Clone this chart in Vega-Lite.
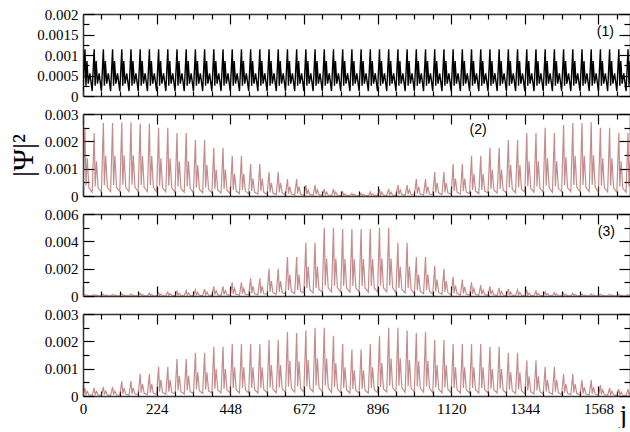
{
"$schema":"https://vega.github.io/schema/vega-lite/v6.json",
"padding":{"left":8,"top":7,"right":0,"bottom":0},
"autosize":{"type":"pad"},
"background":"white",
"spacing":18,
"bounds":"flush",
"config":{"view":{"stroke":null},"axis":{"grid":false,"ticks":true,"domainColor":"#333","domainWidth":1.5,"tickColor":"#000","tickWidth":1.2,"tickSize":-10,"labelFont":"Liberation Serif","labelFontSize":15,"labelColor":"#000","labelFlush":false,"labelOverlap":false,"labelBound":false,"labelPadding":15,"title":null}},
"datasets":{
"p1":[{"j":0,"v":0.00012},{"j":6,"v":0.00114},{"j":9,"v":0.00025},{"j":12,"v":0.00085},{"j":16,"v":0.0003},{"j":21,"v":0.00055},
{"j":28,"v":0.00012},{"j":34,"v":0.00114},{"j":37,"v":0.00025},{"j":40,"v":0.00085},{"j":44,"v":0.0003},{"j":49,"v":0.00055},
{"j":56,"v":0.00012},{"j":62,"v":0.00114},{"j":65,"v":0.00025},{"j":68,"v":0.00085},{"j":72,"v":0.0003},{"j":77,"v":0.00055},
{"j":84,"v":0.00012},{"j":90,"v":0.00114},{"j":93,"v":0.00025},{"j":96,"v":0.00085},{"j":100,"v":0.0003},{"j":105,"v":0.00055},
{"j":112,"v":0.00012},{"j":118,"v":0.00114},{"j":121,"v":0.00025},{"j":124,"v":0.00085},{"j":128,"v":0.0003},{"j":133,"v":0.00055},
{"j":140,"v":0.00012},{"j":146,"v":0.00114},{"j":149,"v":0.00025},{"j":152,"v":0.00085},{"j":156,"v":0.0003},{"j":161,"v":0.00055},
{"j":168,"v":0.00012},{"j":174,"v":0.00114},{"j":177,"v":0.00025},{"j":180,"v":0.00085},{"j":184,"v":0.0003},{"j":189,"v":0.00055},
{"j":196,"v":0.00012},{"j":202,"v":0.00114},{"j":205,"v":0.00025},{"j":208,"v":0.00085},{"j":212,"v":0.0003},{"j":217,"v":0.00055},
{"j":224,"v":0.00012},{"j":230,"v":0.00114},{"j":233,"v":0.00025},{"j":236,"v":0.00085},{"j":240,"v":0.0003},{"j":245,"v":0.00055},
{"j":252,"v":0.00012},{"j":258,"v":0.00114},{"j":261,"v":0.00025},{"j":264,"v":0.00085},{"j":268,"v":0.0003},{"j":273,"v":0.00055},
{"j":280,"v":0.00012},{"j":286,"v":0.00114},{"j":289,"v":0.00025},{"j":292,"v":0.00085},{"j":296,"v":0.0003},{"j":301,"v":0.00055},
{"j":308,"v":0.00012},{"j":314,"v":0.00114},{"j":317,"v":0.00025},{"j":320,"v":0.00085},{"j":324,"v":0.0003},{"j":329,"v":0.00055},
{"j":336,"v":0.00012},{"j":342,"v":0.00114},{"j":345,"v":0.00025},{"j":348,"v":0.00085},{"j":352,"v":0.0003},{"j":357,"v":0.00055},
{"j":364,"v":0.00012},{"j":370,"v":0.00114},{"j":373,"v":0.00025},{"j":376,"v":0.00085},{"j":380,"v":0.0003},{"j":385,"v":0.00055},
{"j":392,"v":0.00012},{"j":398,"v":0.00114},{"j":401,"v":0.00025},{"j":404,"v":0.00085},{"j":408,"v":0.0003},{"j":413,"v":0.00055},
{"j":420,"v":0.00012},{"j":426,"v":0.00114},{"j":429,"v":0.00025},{"j":432,"v":0.00085},{"j":436,"v":0.0003},{"j":441,"v":0.00055},
{"j":448,"v":0.00012},{"j":454,"v":0.00114},{"j":457,"v":0.00025},{"j":460,"v":0.00085},{"j":464,"v":0.0003},{"j":469,"v":0.00055},
{"j":476,"v":0.00012},{"j":482,"v":0.00114},{"j":485,"v":0.00025},{"j":488,"v":0.00085},{"j":492,"v":0.0003},{"j":497,"v":0.00055},
{"j":504,"v":0.00012},{"j":510,"v":0.00114},{"j":513,"v":0.00025},{"j":516,"v":0.00085},{"j":520,"v":0.0003},{"j":525,"v":0.00055},
{"j":532,"v":0.00012},{"j":538,"v":0.00114},{"j":541,"v":0.00025},{"j":544,"v":0.00085},{"j":548,"v":0.0003},{"j":553,"v":0.00055},
{"j":560,"v":0.00012},{"j":566,"v":0.00114},{"j":569,"v":0.00025},{"j":572,"v":0.00085},{"j":576,"v":0.0003},{"j":581,"v":0.00055},
{"j":588,"v":0.00012},{"j":594,"v":0.00114},{"j":597,"v":0.00025},{"j":600,"v":0.00085},{"j":604,"v":0.0003},{"j":609,"v":0.00055},
{"j":616,"v":0.00012},{"j":622,"v":0.00114},{"j":625,"v":0.00025},{"j":628,"v":0.00085},{"j":632,"v":0.0003},{"j":637,"v":0.00055},
{"j":644,"v":0.00012},{"j":650,"v":0.00114},{"j":653,"v":0.00025},{"j":656,"v":0.00085},{"j":660,"v":0.0003},{"j":665,"v":0.00055},
{"j":672,"v":0.00012},{"j":678,"v":0.00114},{"j":681,"v":0.00025},{"j":684,"v":0.00085},{"j":688,"v":0.0003},{"j":693,"v":0.00055},
{"j":700,"v":0.00012},{"j":706,"v":0.00114},{"j":709,"v":0.00025},{"j":712,"v":0.00085},{"j":716,"v":0.0003},{"j":721,"v":0.00055},
{"j":728,"v":0.00012},{"j":734,"v":0.00114},{"j":737,"v":0.00025},{"j":740,"v":0.00085},{"j":744,"v":0.0003},{"j":749,"v":0.00055},
{"j":756,"v":0.00012},{"j":762,"v":0.00114},{"j":765,"v":0.00025},{"j":768,"v":0.00085},{"j":772,"v":0.0003},{"j":777,"v":0.00055},
{"j":784,"v":0.00012},{"j":790,"v":0.00114},{"j":793,"v":0.00025},{"j":796,"v":0.00085},{"j":800,"v":0.0003},{"j":805,"v":0.00055},
{"j":812,"v":0.00012},{"j":818,"v":0.00114},{"j":821,"v":0.00025},{"j":824,"v":0.00085},{"j":828,"v":0.0003},{"j":833,"v":0.00055},
{"j":840,"v":0.00012},{"j":846,"v":0.00114},{"j":849,"v":0.00025},{"j":852,"v":0.00085},{"j":856,"v":0.0003},{"j":861,"v":0.00055},
{"j":868,"v":0.00012},{"j":874,"v":0.00114},{"j":877,"v":0.00025},{"j":880,"v":0.00085},{"j":884,"v":0.0003},{"j":889,"v":0.00055},
{"j":896,"v":0.00012},{"j":902,"v":0.00114},{"j":905,"v":0.00025},{"j":908,"v":0.00085},{"j":912,"v":0.0003},{"j":917,"v":0.00055},
{"j":924,"v":0.00012},{"j":930,"v":0.00114},{"j":933,"v":0.00025},{"j":936,"v":0.00085},{"j":940,"v":0.0003},{"j":945,"v":0.00055},
{"j":952,"v":0.00012},{"j":958,"v":0.00114},{"j":961,"v":0.00025},{"j":964,"v":0.00085},{"j":968,"v":0.0003},{"j":973,"v":0.00055},
{"j":980,"v":0.00012},{"j":986,"v":0.00114},{"j":989,"v":0.00025},{"j":992,"v":0.00085},{"j":996,"v":0.0003},{"j":1001,"v":0.00055},
{"j":1008,"v":0.00012},{"j":1014,"v":0.00114},{"j":1017,"v":0.00025},{"j":1020,"v":0.00085},{"j":1024,"v":0.0003},{"j":1029,"v":0.00055},
{"j":1036,"v":0.00012},{"j":1042,"v":0.00114},{"j":1045,"v":0.00025},{"j":1048,"v":0.00085},{"j":1052,"v":0.0003},{"j":1057,"v":0.00055},
{"j":1064,"v":0.00012},{"j":1070,"v":0.00114},{"j":1073,"v":0.00025},{"j":1076,"v":0.00085},{"j":1080,"v":0.0003},{"j":1085,"v":0.00055},
{"j":1092,"v":0.00012},{"j":1098,"v":0.00114},{"j":1101,"v":0.00025},{"j":1104,"v":0.00085},{"j":1108,"v":0.0003},{"j":1113,"v":0.00055},
{"j":1120,"v":0.00012},{"j":1126,"v":0.00114},{"j":1129,"v":0.00025},{"j":1132,"v":0.00085},{"j":1136,"v":0.0003},{"j":1141,"v":0.00055},
{"j":1148,"v":0.00012},{"j":1154,"v":0.00114},{"j":1157,"v":0.00025},{"j":1160,"v":0.00085},{"j":1164,"v":0.0003},{"j":1169,"v":0.00055},
{"j":1176,"v":0.00012},{"j":1182,"v":0.00114},{"j":1185,"v":0.00025},{"j":1188,"v":0.00085},{"j":1192,"v":0.0003},{"j":1197,"v":0.00055},
{"j":1204,"v":0.00012},{"j":1210,"v":0.00114},{"j":1213,"v":0.00025},{"j":1216,"v":0.00085},{"j":1220,"v":0.0003},{"j":1225,"v":0.00055},
{"j":1232,"v":0.00012},{"j":1238,"v":0.00114},{"j":1241,"v":0.00025},{"j":1244,"v":0.00085},{"j":1248,"v":0.0003},{"j":1253,"v":0.00055},
{"j":1260,"v":0.00012},{"j":1266,"v":0.00114},{"j":1269,"v":0.00025},{"j":1272,"v":0.00085},{"j":1276,"v":0.0003},{"j":1281,"v":0.00055},
{"j":1288,"v":0.00012},{"j":1294,"v":0.00114},{"j":1297,"v":0.00025},{"j":1300,"v":0.00085},{"j":1304,"v":0.0003},{"j":1309,"v":0.00055},
{"j":1316,"v":0.00012},{"j":1322,"v":0.00114},{"j":1325,"v":0.00025},{"j":1328,"v":0.00085},{"j":1332,"v":0.0003},{"j":1337,"v":0.00055},
{"j":1344,"v":0.00012},{"j":1350,"v":0.00114},{"j":1353,"v":0.00025},{"j":1356,"v":0.00085},{"j":1360,"v":0.0003},{"j":1365,"v":0.00055},
{"j":1372,"v":0.00012},{"j":1378,"v":0.00114},{"j":1381,"v":0.00025},{"j":1384,"v":0.00085},{"j":1388,"v":0.0003},{"j":1393,"v":0.00055},
{"j":1400,"v":0.00012},{"j":1406,"v":0.00114},{"j":1409,"v":0.00025},{"j":1412,"v":0.00085},{"j":1416,"v":0.0003},{"j":1421,"v":0.00055},
{"j":1428,"v":0.00012},{"j":1434,"v":0.00114},{"j":1437,"v":0.00025},{"j":1440,"v":0.00085},{"j":1444,"v":0.0003},{"j":1449,"v":0.00055},
{"j":1456,"v":0.00012},{"j":1462,"v":0.00114},{"j":1465,"v":0.00025},{"j":1468,"v":0.00085},{"j":1472,"v":0.0003},{"j":1477,"v":0.00055},
{"j":1484,"v":0.00012},{"j":1490,"v":0.00114},{"j":1493,"v":0.00025},{"j":1496,"v":0.00085},{"j":1500,"v":0.0003},{"j":1505,"v":0.00055},
{"j":1512,"v":0.00012},{"j":1518,"v":0.00114},{"j":1521,"v":0.00025},{"j":1524,"v":0.00085},{"j":1528,"v":0.0003},{"j":1533,"v":0.00055},
{"j":1540,"v":0.00012},{"j":1546,"v":0.00114},{"j":1549,"v":0.00025},{"j":1552,"v":0.00085},{"j":1556,"v":0.0003},{"j":1561,"v":0.00055},
{"j":1568,"v":0.00012},{"j":1574,"v":0.00114},{"j":1577,"v":0.00025},{"j":1580,"v":0.00085},{"j":1584,"v":0.0003},{"j":1589,"v":0.00055},
{"j":1596,"v":0.00012},{"j":1602,"v":0.00114},{"j":1605,"v":0.00025},{"j":1608,"v":0.00085},{"j":1612,"v":0.0003},{"j":1617,"v":0.00055},
{"j":1624,"v":0.00012},{"j":1630,"v":0.00114},{"j":1633,"v":0.00025},{"j":1636,"v":0.00085},{"j":1640,"v":0.0003},{"j":1645,"v":0.00055},
{"j":1652,"v":0.00012},{"j":1658,"v":0.00114},{"j":1661,"v":0.00025},{"j":1664,"v":0.00085},{"j":1668,"v":0.0003},{"j":1673,"v":0.00055}],
"p2":[{"j":0,"v":0.00015},{"j":6,"v":0.0025},{"j":9,"v":0.00038},{"j":13,"v":0.00138},{"j":18,"v":0.0003},
{"j":28,"v":0.00014},{"j":34,"v":0.0023},{"j":37,"v":0.00035},{"j":41,"v":0.00127},{"j":46,"v":0.00028},
{"j":56,"v":0.00016},{"j":62,"v":0.00267},{"j":65,"v":0.0004},{"j":69,"v":0.00147},{"j":74,"v":0.00032},
{"j":84,"v":0.00016},{"j":90,"v":0.00267},{"j":93,"v":0.0004},{"j":97,"v":0.00147},{"j":102,"v":0.00032},
{"j":112,"v":0.00016},{"j":118,"v":0.0027},{"j":121,"v":0.00041},{"j":125,"v":0.00149},{"j":130,"v":0.00032},
{"j":140,"v":0.00016},{"j":146,"v":0.0027},{"j":149,"v":0.00041},{"j":153,"v":0.00149},{"j":158,"v":0.00032},
{"j":168,"v":0.00016},{"j":174,"v":0.00265},{"j":177,"v":0.0004},{"j":181,"v":0.00146},{"j":186,"v":0.00032},
{"j":196,"v":0.00016},{"j":202,"v":0.00265},{"j":205,"v":0.0004},{"j":209,"v":0.00146},{"j":214,"v":0.00032},
{"j":224,"v":0.00015},{"j":230,"v":0.0025},{"j":233,"v":0.00038},{"j":237,"v":0.00138},{"j":242,"v":0.0003},
{"j":252,"v":0.00015},{"j":258,"v":0.0025},{"j":261,"v":0.00038},{"j":265,"v":0.00138},{"j":270,"v":0.0003},
{"j":280,"v":0.00014},{"j":286,"v":0.0023},{"j":289,"v":0.00035},{"j":293,"v":0.00127},{"j":298,"v":0.00028},
{"j":308,"v":0.00014},{"j":314,"v":0.0023},{"j":317,"v":0.00035},{"j":321,"v":0.00127},{"j":326,"v":0.00028},
{"j":336,"v":0.00012},{"j":342,"v":0.00205},{"j":345,"v":0.00031},{"j":349,"v":0.00113},{"j":354,"v":0.00025},
{"j":364,"v":0.00012},{"j":370,"v":0.00205},{"j":373,"v":0.00031},{"j":377,"v":0.00113},{"j":382,"v":0.00025},
{"j":392,"v":0.00011},{"j":398,"v":0.00176},{"j":401,"v":0.00026},{"j":405,"v":0.00097},{"j":410,"v":0.00021},
{"j":420,"v":0.00011},{"j":426,"v":0.00176},{"j":429,"v":0.00026},{"j":433,"v":0.00097},{"j":438,"v":0.00021},
{"j":448,"v":0.00009},{"j":454,"v":0.00147},{"j":457,"v":0.00022},{"j":461,"v":0.00081},{"j":466,"v":0.00018},
{"j":476,"v":0.00009},{"j":482,"v":0.00147},{"j":485,"v":0.00022},{"j":489,"v":0.00081},{"j":494,"v":0.00018},
{"j":504,"v":0.00007},{"j":510,"v":0.00117},{"j":513,"v":0.00018},{"j":517,"v":0.00064},{"j":522,"v":0.00014},
{"j":532,"v":0.00007},{"j":538,"v":0.00117},{"j":541,"v":0.00018},{"j":545,"v":0.00064},{"j":550,"v":0.00014},
{"j":560,"v":0.00005},{"j":566,"v":0.00088},{"j":569,"v":0.00013},{"j":573,"v":0.00048},{"j":578,"v":0.00011},
{"j":588,"v":0.00005},{"j":594,"v":0.00088},{"j":597,"v":0.00013},{"j":601,"v":0.00048},{"j":606,"v":0.00011},
{"j":616,"v":0.00004},{"j":622,"v":0.00062},{"j":625,"v":0.00009},{"j":629,"v":0.00034},{"j":634,"v":0.00007},
{"j":644,"v":0.00004},{"j":650,"v":0.00062},{"j":653,"v":0.00009},{"j":657,"v":0.00034},{"j":662,"v":0.00007},
{"j":672,"v":0.00002},{"j":678,"v":0.0004},{"j":681,"v":0.00006},{"j":685,"v":0.00022},{"j":690,"v":0.00005},
{"j":700,"v":0.00002},{"j":706,"v":0.0004},{"j":709,"v":0.00006},{"j":713,"v":0.00022},{"j":718,"v":0.00005},
{"j":728,"v":0.00002},{"j":734,"v":0.00025},{"j":737,"v":0.00004},{"j":741,"v":0.00014},{"j":746,"v":0.00003},
{"j":756,"v":0.00002},{"j":762,"v":0.00025},{"j":765,"v":0.00004},{"j":769,"v":0.00014},{"j":774,"v":0.00003},
{"j":784,"v":0.00001},{"j":790,"v":0.00015},{"j":793,"v":0.00002},{"j":797,"v":0.00008},{"j":802,"v":0.00002},
{"j":812,"v":0.00001},{"j":818,"v":0.0001},{"j":821,"v":0.00002},{"j":825,"v":0.00006},{"j":830,"v":0.00001},
{"j":840,"v":0.00001},{"j":846,"v":0.0001},{"j":849,"v":0.00002},{"j":853,"v":0.00006},{"j":858,"v":0.00001},
{"j":868,"v":0.00001},{"j":874,"v":0.00015},{"j":877,"v":0.00002},{"j":881,"v":0.00008},{"j":886,"v":0.00002},
{"j":896,"v":0.00002},{"j":902,"v":0.00025},{"j":905,"v":0.00004},{"j":909,"v":0.00014},{"j":914,"v":0.00003},
{"j":924,"v":0.00002},{"j":930,"v":0.00025},{"j":933,"v":0.00004},{"j":937,"v":0.00014},{"j":942,"v":0.00003},
{"j":952,"v":0.00002},{"j":958,"v":0.0004},{"j":961,"v":0.00006},{"j":965,"v":0.00022},{"j":970,"v":0.00005},
{"j":980,"v":0.00002},{"j":986,"v":0.0004},{"j":989,"v":0.00006},{"j":993,"v":0.00022},{"j":998,"v":0.00005},
{"j":1008,"v":0.00004},{"j":1014,"v":0.00062},{"j":1017,"v":0.00009},{"j":1021,"v":0.00034},{"j":1026,"v":0.00007},
{"j":1036,"v":0.00004},{"j":1042,"v":0.00062},{"j":1045,"v":0.00009},{"j":1049,"v":0.00034},{"j":1054,"v":0.00007},
{"j":1064,"v":0.00005},{"j":1070,"v":0.00088},{"j":1073,"v":0.00013},{"j":1077,"v":0.00048},{"j":1082,"v":0.00011},
{"j":1092,"v":0.00005},{"j":1098,"v":0.00088},{"j":1101,"v":0.00013},{"j":1105,"v":0.00048},{"j":1110,"v":0.00011},
{"j":1120,"v":0.00007},{"j":1126,"v":0.00117},{"j":1129,"v":0.00018},{"j":1133,"v":0.00064},{"j":1138,"v":0.00014},
{"j":1148,"v":0.00007},{"j":1154,"v":0.00117},{"j":1157,"v":0.00018},{"j":1161,"v":0.00064},{"j":1166,"v":0.00014},
{"j":1176,"v":0.00009},{"j":1182,"v":0.00147},{"j":1185,"v":0.00022},{"j":1189,"v":0.00081},{"j":1194,"v":0.00018},
{"j":1204,"v":0.00009},{"j":1210,"v":0.00147},{"j":1213,"v":0.00022},{"j":1217,"v":0.00081},{"j":1222,"v":0.00018},
{"j":1232,"v":0.00011},{"j":1238,"v":0.00176},{"j":1241,"v":0.00026},{"j":1245,"v":0.00097},{"j":1250,"v":0.00021},
{"j":1260,"v":0.00011},{"j":1266,"v":0.00176},{"j":1269,"v":0.00026},{"j":1273,"v":0.00097},{"j":1278,"v":0.00021},
{"j":1288,"v":0.00012},{"j":1294,"v":0.00205},{"j":1297,"v":0.00031},{"j":1301,"v":0.00113},{"j":1306,"v":0.00025},
{"j":1316,"v":0.00012},{"j":1322,"v":0.00205},{"j":1325,"v":0.00031},{"j":1329,"v":0.00113},{"j":1334,"v":0.00025},
{"j":1344,"v":0.00014},{"j":1350,"v":0.0023},{"j":1353,"v":0.00035},{"j":1357,"v":0.00127},{"j":1362,"v":0.00028},
{"j":1372,"v":0.00014},{"j":1378,"v":0.0023},{"j":1381,"v":0.00035},{"j":1385,"v":0.00127},{"j":1390,"v":0.00028},
{"j":1400,"v":0.00015},{"j":1406,"v":0.0025},{"j":1409,"v":0.00038},{"j":1413,"v":0.00138},{"j":1418,"v":0.0003},
{"j":1428,"v":0.00014},{"j":1434,"v":0.0023},{"j":1437,"v":0.00035},{"j":1441,"v":0.00127},{"j":1446,"v":0.00028},
{"j":1456,"v":0.00016},{"j":1462,"v":0.0026},{"j":1465,"v":0.00039},{"j":1469,"v":0.00143},{"j":1474,"v":0.00031},
{"j":1484,"v":0.00016},{"j":1490,"v":0.00267},{"j":1493,"v":0.0004},{"j":1497,"v":0.00147},{"j":1502,"v":0.00032},
{"j":1512,"v":0.00016},{"j":1518,"v":0.00267},{"j":1521,"v":0.0004},{"j":1525,"v":0.00147},{"j":1530,"v":0.00032},
{"j":1540,"v":0.00016},{"j":1546,"v":0.0027},{"j":1549,"v":0.00041},{"j":1553,"v":0.00149},{"j":1558,"v":0.00032},
{"j":1568,"v":0.00015},{"j":1574,"v":0.0025},{"j":1577,"v":0.00038},{"j":1581,"v":0.00138},{"j":1586,"v":0.0003},
{"j":1596,"v":0.00015},{"j":1602,"v":0.0025},{"j":1605,"v":0.00038},{"j":1609,"v":0.00138},{"j":1614,"v":0.0003},
{"j":1624,"v":0.00014},{"j":1630,"v":0.0023},{"j":1633,"v":0.00035},{"j":1637,"v":0.00127},{"j":1642,"v":0.00028},
{"j":1652,"v":0.00014},{"j":1658,"v":0.0023},{"j":1661,"v":0.00035},{"j":1665,"v":0.00127},{"j":1670,"v":0.00028}],
"p3":[{"j":0,"v":0.00001},{"j":6,"v":0.0001},{"j":9,"v":0.00002},{"j":13,"v":0.00006},{"j":18,"v":0.00001},
{"j":28,"v":0.00001},{"j":34,"v":0.0001},{"j":37,"v":0.00002},{"j":41,"v":0.00006},{"j":46,"v":0.00001},
{"j":56,"v":0.00001},{"j":62,"v":0.00012},{"j":65,"v":0.00002},{"j":69,"v":0.00007},{"j":74,"v":0.00001},
{"j":84,"v":0.00001},{"j":90,"v":0.00012},{"j":93,"v":0.00002},{"j":97,"v":0.00007},{"j":102,"v":0.00001},
{"j":112,"v":0.00001},{"j":118,"v":0.00015},{"j":121,"v":0.00002},{"j":125,"v":0.00008},{"j":130,"v":0.00002},
{"j":140,"v":0.00001},{"j":146,"v":0.00015},{"j":149,"v":0.00002},{"j":153,"v":0.00008},{"j":158,"v":0.00002},
{"j":168,"v":0.00001},{"j":174,"v":0.0002},{"j":177,"v":0.00003},{"j":181,"v":0.00011},{"j":186,"v":0.00002},
{"j":196,"v":0.00001},{"j":202,"v":0.0002},{"j":205,"v":0.00003},{"j":209,"v":0.00011},{"j":214,"v":0.00002},
{"j":224,"v":0.00002},{"j":230,"v":0.00025},{"j":233,"v":0.00004},{"j":237,"v":0.00014},{"j":242,"v":0.00003},
{"j":252,"v":0.00002},{"j":258,"v":0.0003},{"j":261,"v":0.00005},{"j":265,"v":0.00017},{"j":270,"v":0.00004},
{"j":280,"v":0.00002},{"j":286,"v":0.00035},{"j":289,"v":0.00005},{"j":293,"v":0.00019},{"j":298,"v":0.00004},
{"j":308,"v":0.00002},{"j":314,"v":0.0004},{"j":317,"v":0.00006},{"j":321,"v":0.00022},{"j":326,"v":0.00005},
{"j":336,"v":0.00003},{"j":342,"v":0.00045},{"j":345,"v":0.00007},{"j":349,"v":0.00025},{"j":354,"v":0.00005},
{"j":364,"v":0.00003},{"j":370,"v":0.0005},{"j":373,"v":0.00008},{"j":377,"v":0.00028},{"j":382,"v":0.00006},
{"j":392,"v":0.00004},{"j":398,"v":0.0007},{"j":401,"v":0.00011},{"j":405,"v":0.00039},{"j":410,"v":0.00008},
{"j":420,"v":0.00004},{"j":426,"v":0.0007},{"j":429,"v":0.00011},{"j":433,"v":0.00039},{"j":438,"v":0.00008},
{"j":448,"v":0.00006},{"j":454,"v":0.001},{"j":457,"v":0.00015},{"j":461,"v":0.00055},{"j":466,"v":0.00012},
{"j":476,"v":0.00006},{"j":482,"v":0.001},{"j":485,"v":0.00015},{"j":489,"v":0.00055},{"j":494,"v":0.00012},
{"j":504,"v":0.00008},{"j":510,"v":0.0013},{"j":513,"v":0.0002},{"j":517,"v":0.00072},{"j":522,"v":0.00016},
{"j":532,"v":0.00008},{"j":538,"v":0.0013},{"j":541,"v":0.0002},{"j":545,"v":0.00072},{"j":550,"v":0.00016},
{"j":560,"v":0.00012},{"j":566,"v":0.002},{"j":569,"v":0.0003},{"j":573,"v":0.0011},{"j":578,"v":0.00024},
{"j":588,"v":0.00012},{"j":594,"v":0.002},{"j":597,"v":0.0003},{"j":601,"v":0.0011},{"j":606,"v":0.00024},
{"j":616,"v":0.00017},{"j":622,"v":0.00285},{"j":625,"v":0.00043},{"j":629,"v":0.00157},{"j":634,"v":0.00034},
{"j":644,"v":0.00017},{"j":650,"v":0.00285},{"j":653,"v":0.00043},{"j":657,"v":0.00157},{"j":662,"v":0.00034},
{"j":672,"v":0.00023},{"j":678,"v":0.0039},{"j":681,"v":0.00059},{"j":685,"v":0.00215},{"j":690,"v":0.00047},
{"j":700,"v":0.00023},{"j":706,"v":0.0039},{"j":709,"v":0.00059},{"j":713,"v":0.00215},{"j":718,"v":0.00047},
{"j":728,"v":0.0003},{"j":734,"v":0.005},{"j":737,"v":0.00075},{"j":741,"v":0.00275},{"j":746,"v":0.0006},
{"j":756,"v":0.0003},{"j":762,"v":0.005},{"j":765,"v":0.00075},{"j":769,"v":0.00275},{"j":774,"v":0.0006},
{"j":784,"v":0.00029},{"j":790,"v":0.0049},{"j":793,"v":0.00074},{"j":797,"v":0.0027},{"j":802,"v":0.00059},
{"j":812,"v":0.00029},{"j":818,"v":0.0049},{"j":821,"v":0.00074},{"j":825,"v":0.0027},{"j":830,"v":0.00059},
{"j":840,"v":0.00029},{"j":846,"v":0.0049},{"j":849,"v":0.00074},{"j":853,"v":0.0027},{"j":858,"v":0.00059},
{"j":868,"v":0.00029},{"j":874,"v":0.0049},{"j":877,"v":0.00074},{"j":881,"v":0.0027},{"j":886,"v":0.00059},
{"j":896,"v":0.0003},{"j":902,"v":0.005},{"j":905,"v":0.00075},{"j":909,"v":0.00275},{"j":914,"v":0.0006},
{"j":924,"v":0.0003},{"j":930,"v":0.005},{"j":933,"v":0.00075},{"j":937,"v":0.00275},{"j":942,"v":0.0006},
{"j":952,"v":0.00023},{"j":958,"v":0.0039},{"j":961,"v":0.00059},{"j":965,"v":0.00215},{"j":970,"v":0.00047},
{"j":980,"v":0.00023},{"j":986,"v":0.0039},{"j":989,"v":0.00059},{"j":993,"v":0.00215},{"j":998,"v":0.00047},
{"j":1008,"v":0.00017},{"j":1014,"v":0.00285},{"j":1017,"v":0.00043},{"j":1021,"v":0.00157},{"j":1026,"v":0.00034},
{"j":1036,"v":0.00017},{"j":1042,"v":0.00285},{"j":1045,"v":0.00043},{"j":1049,"v":0.00157},{"j":1054,"v":0.00034},
{"j":1064,"v":0.00013},{"j":1070,"v":0.0022},{"j":1073,"v":0.00033},{"j":1077,"v":0.00121},{"j":1082,"v":0.00026},
{"j":1092,"v":0.00012},{"j":1098,"v":0.002},{"j":1101,"v":0.0003},{"j":1105,"v":0.0011},{"j":1110,"v":0.00024},
{"j":1120,"v":0.00008},{"j":1126,"v":0.0014},{"j":1129,"v":0.00021},{"j":1133,"v":0.00077},{"j":1138,"v":0.00017},
{"j":1148,"v":0.00007},{"j":1154,"v":0.0012},{"j":1157,"v":0.00018},{"j":1161,"v":0.00066},{"j":1166,"v":0.00014},
{"j":1176,"v":0.00006},{"j":1182,"v":0.001},{"j":1185,"v":0.00015},{"j":1189,"v":0.00055},{"j":1194,"v":0.00012},
{"j":1204,"v":0.00005},{"j":1210,"v":0.0008},{"j":1213,"v":0.00012},{"j":1217,"v":0.00044},{"j":1222,"v":0.0001},
{"j":1232,"v":0.00004},{"j":1238,"v":0.0007},{"j":1241,"v":0.00011},{"j":1245,"v":0.00039},{"j":1250,"v":0.00008},
{"j":1260,"v":0.00004},{"j":1266,"v":0.0006},{"j":1269,"v":0.00009},{"j":1273,"v":0.00033},{"j":1278,"v":0.00007},
{"j":1288,"v":0.00003},{"j":1294,"v":0.0005},{"j":1297,"v":0.00008},{"j":1301,"v":0.00028},{"j":1306,"v":0.00006},
{"j":1316,"v":0.00003},{"j":1322,"v":0.00045},{"j":1325,"v":0.00007},{"j":1329,"v":0.00025},{"j":1334,"v":0.00005},
{"j":1344,"v":0.00002},{"j":1350,"v":0.0004},{"j":1353,"v":0.00006},{"j":1357,"v":0.00022},{"j":1362,"v":0.00005},
{"j":1372,"v":0.00002},{"j":1378,"v":0.00035},{"j":1381,"v":0.00005},{"j":1385,"v":0.00019},{"j":1390,"v":0.00004},
{"j":1400,"v":0.00002},{"j":1406,"v":0.0003},{"j":1409,"v":0.00005},{"j":1413,"v":0.00017},{"j":1418,"v":0.00004},
{"j":1428,"v":0.00002},{"j":1434,"v":0.00025},{"j":1437,"v":0.00004},{"j":1441,"v":0.00014},{"j":1446,"v":0.00003},
{"j":1456,"v":0.00001},{"j":1462,"v":0.0002},{"j":1465,"v":0.00003},{"j":1469,"v":0.00011},{"j":1474,"v":0.00002},
{"j":1484,"v":0.00001},{"j":1490,"v":0.0002},{"j":1493,"v":0.00003},{"j":1497,"v":0.00011},{"j":1502,"v":0.00002},
{"j":1512,"v":0.00001},{"j":1518,"v":0.00015},{"j":1521,"v":0.00002},{"j":1525,"v":0.00008},{"j":1530,"v":0.00002},
{"j":1540,"v":0.00001},{"j":1546,"v":0.00015},{"j":1549,"v":0.00002},{"j":1553,"v":0.00008},{"j":1558,"v":0.00002},
{"j":1568,"v":0.00001},{"j":1574,"v":0.00012},{"j":1577,"v":0.00002},{"j":1581,"v":0.00007},{"j":1586,"v":0.00001},
{"j":1596,"v":0.00001},{"j":1602,"v":0.00012},{"j":1605,"v":0.00002},{"j":1609,"v":0.00007},{"j":1614,"v":0.00001},
{"j":1624,"v":0.00001},{"j":1630,"v":0.0001},{"j":1633,"v":0.00002},{"j":1637,"v":0.00006},{"j":1642,"v":0.00001},
{"j":1652,"v":0.00001},{"j":1658,"v":0.0001},{"j":1661,"v":0.00002},{"j":1665,"v":0.00006},{"j":1670,"v":0.00001}],
"p4":[{"j":0,"v":0.00002},{"j":6,"v":0.0003},{"j":9,"v":0.00005},{"j":13,"v":0.00017},{"j":18,"v":0.00004},
{"j":28,"v":0.00002},{"j":34,"v":0.0003},{"j":37,"v":0.00005},{"j":41,"v":0.00017},{"j":46,"v":0.00004},
{"j":56,"v":0.00002},{"j":62,"v":0.00033},{"j":65,"v":0.00005},{"j":69,"v":0.00018},{"j":74,"v":0.00004},
{"j":84,"v":0.00002},{"j":90,"v":0.00033},{"j":93,"v":0.00005},{"j":97,"v":0.00018},{"j":102,"v":0.00004},
{"j":112,"v":0.00003},{"j":118,"v":0.00055},{"j":121,"v":0.00008},{"j":125,"v":0.0003},{"j":130,"v":0.00007},
{"j":140,"v":0.00003},{"j":146,"v":0.00055},{"j":149,"v":0.00008},{"j":153,"v":0.0003},{"j":158,"v":0.00007},
{"j":168,"v":0.00005},{"j":174,"v":0.0008},{"j":177,"v":0.00012},{"j":181,"v":0.00044},{"j":186,"v":0.0001},
{"j":196,"v":0.00005},{"j":202,"v":0.0008},{"j":205,"v":0.00012},{"j":209,"v":0.00044},{"j":214,"v":0.0001},
{"j":224,"v":0.00006},{"j":230,"v":0.00107},{"j":233,"v":0.00016},{"j":237,"v":0.00059},{"j":242,"v":0.00013},
{"j":252,"v":0.00006},{"j":258,"v":0.00107},{"j":261,"v":0.00016},{"j":265,"v":0.00059},{"j":270,"v":0.00013},
{"j":280,"v":0.00008},{"j":286,"v":0.00135},{"j":289,"v":0.0002},{"j":293,"v":0.00074},{"j":298,"v":0.00016},
{"j":308,"v":0.00008},{"j":314,"v":0.00135},{"j":317,"v":0.0002},{"j":321,"v":0.00074},{"j":326,"v":0.00016},
{"j":336,"v":0.00009},{"j":342,"v":0.00158},{"j":345,"v":0.00024},{"j":349,"v":0.00087},{"j":354,"v":0.00019},
{"j":364,"v":0.00009},{"j":370,"v":0.00158},{"j":373,"v":0.00024},{"j":377,"v":0.00087},{"j":382,"v":0.00019},
{"j":392,"v":0.00011},{"j":398,"v":0.0018},{"j":401,"v":0.00027},{"j":405,"v":0.00099},{"j":410,"v":0.00022},
{"j":420,"v":0.00011},{"j":426,"v":0.0018},{"j":429,"v":0.00027},{"j":433,"v":0.00099},{"j":438,"v":0.00022},
{"j":448,"v":0.00011},{"j":454,"v":0.0019},{"j":457,"v":0.00029},{"j":461,"v":0.00105},{"j":466,"v":0.00023},
{"j":476,"v":0.00011},{"j":482,"v":0.0019},{"j":485,"v":0.00029},{"j":489,"v":0.00105},{"j":494,"v":0.00023},
{"j":504,"v":0.00011},{"j":510,"v":0.0019},{"j":513,"v":0.00029},{"j":517,"v":0.00105},{"j":522,"v":0.00023},
{"j":532,"v":0.00011},{"j":538,"v":0.0019},{"j":541,"v":0.00029},{"j":545,"v":0.00105},{"j":550,"v":0.00023},
{"j":560,"v":0.00012},{"j":566,"v":0.00205},{"j":569,"v":0.00031},{"j":573,"v":0.00113},{"j":578,"v":0.00025},
{"j":588,"v":0.00012},{"j":594,"v":0.00205},{"j":597,"v":0.00031},{"j":601,"v":0.00113},{"j":606,"v":0.00025},
{"j":616,"v":0.00014},{"j":622,"v":0.00235},{"j":625,"v":0.00035},{"j":629,"v":0.00129},{"j":634,"v":0.00028},
{"j":644,"v":0.00014},{"j":650,"v":0.0023},{"j":653,"v":0.00035},{"j":657,"v":0.00127},{"j":662,"v":0.00028},
{"j":672,"v":0.00014},{"j":678,"v":0.0024},{"j":681,"v":0.00036},{"j":685,"v":0.00132},{"j":690,"v":0.00029},
{"j":700,"v":0.00015},{"j":706,"v":0.0025},{"j":709,"v":0.00038},{"j":713,"v":0.00138},{"j":718,"v":0.0003},
{"j":728,"v":0.00015},{"j":734,"v":0.0025},{"j":737,"v":0.00038},{"j":741,"v":0.00138},{"j":746,"v":0.0003},
{"j":756,"v":0.00013},{"j":762,"v":0.0022},{"j":765,"v":0.00033},{"j":769,"v":0.00121},{"j":774,"v":0.00026},
{"j":784,"v":0.00011},{"j":790,"v":0.0019},{"j":793,"v":0.00029},{"j":797,"v":0.00105},{"j":802,"v":0.00023},
{"j":812,"v":0.0001},{"j":818,"v":0.0017},{"j":821,"v":0.00026},{"j":825,"v":0.00094},{"j":830,"v":0.0002},
{"j":840,"v":0.0001},{"j":846,"v":0.0017},{"j":849,"v":0.00026},{"j":853,"v":0.00094},{"j":858,"v":0.0002},
{"j":868,"v":0.00011},{"j":874,"v":0.0019},{"j":877,"v":0.00029},{"j":881,"v":0.00105},{"j":886,"v":0.00023},
{"j":896,"v":0.00013},{"j":902,"v":0.0022},{"j":905,"v":0.00033},{"j":909,"v":0.00121},{"j":914,"v":0.00026},
{"j":924,"v":0.00015},{"j":930,"v":0.0025},{"j":933,"v":0.00038},{"j":937,"v":0.00138},{"j":942,"v":0.0003},
{"j":952,"v":0.00015},{"j":958,"v":0.0025},{"j":961,"v":0.00038},{"j":965,"v":0.00138},{"j":970,"v":0.0003},
{"j":980,"v":0.00014},{"j":986,"v":0.0024},{"j":989,"v":0.00036},{"j":993,"v":0.00132},{"j":998,"v":0.00029},
{"j":1008,"v":0.00014},{"j":1014,"v":0.0023},{"j":1017,"v":0.00035},{"j":1021,"v":0.00127},{"j":1026,"v":0.00028},
{"j":1036,"v":0.00014},{"j":1042,"v":0.00235},{"j":1045,"v":0.00035},{"j":1049,"v":0.00129},{"j":1054,"v":0.00028},
{"j":1064,"v":0.00012},{"j":1070,"v":0.00205},{"j":1073,"v":0.00031},{"j":1077,"v":0.00113},{"j":1082,"v":0.00025},
{"j":1092,"v":0.00012},{"j":1098,"v":0.00205},{"j":1101,"v":0.00031},{"j":1105,"v":0.00113},{"j":1110,"v":0.00025},
{"j":1120,"v":0.00011},{"j":1126,"v":0.0019},{"j":1129,"v":0.00029},{"j":1133,"v":0.00105},{"j":1138,"v":0.00023},
{"j":1148,"v":0.00011},{"j":1154,"v":0.0019},{"j":1157,"v":0.00029},{"j":1161,"v":0.00105},{"j":1166,"v":0.00023},
{"j":1176,"v":0.00011},{"j":1182,"v":0.0019},{"j":1185,"v":0.00029},{"j":1189,"v":0.00105},{"j":1194,"v":0.00023},
{"j":1204,"v":0.00011},{"j":1210,"v":0.0019},{"j":1213,"v":0.00029},{"j":1217,"v":0.00105},{"j":1222,"v":0.00023},
{"j":1232,"v":0.00011},{"j":1238,"v":0.0018},{"j":1241,"v":0.00027},{"j":1245,"v":0.00099},{"j":1250,"v":0.00022},
{"j":1260,"v":0.00011},{"j":1266,"v":0.0018},{"j":1269,"v":0.00027},{"j":1273,"v":0.00099},{"j":1278,"v":0.00022},
{"j":1288,"v":0.00009},{"j":1294,"v":0.00158},{"j":1297,"v":0.00024},{"j":1301,"v":0.00087},{"j":1306,"v":0.00019},
{"j":1316,"v":0.00009},{"j":1322,"v":0.00158},{"j":1325,"v":0.00024},{"j":1329,"v":0.00087},{"j":1334,"v":0.00019},
{"j":1344,"v":0.00008},{"j":1350,"v":0.0013},{"j":1353,"v":0.0002},{"j":1357,"v":0.00072},{"j":1362,"v":0.00016},
{"j":1372,"v":0.00008},{"j":1378,"v":0.0013},{"j":1381,"v":0.0002},{"j":1385,"v":0.00072},{"j":1390,"v":0.00016},
{"j":1400,"v":0.00006},{"j":1406,"v":0.00107},{"j":1409,"v":0.00016},{"j":1413,"v":0.00059},{"j":1418,"v":0.00013},
{"j":1428,"v":0.00006},{"j":1434,"v":0.00107},{"j":1437,"v":0.00016},{"j":1441,"v":0.00059},{"j":1446,"v":0.00013},
{"j":1456,"v":0.00005},{"j":1462,"v":0.0008},{"j":1465,"v":0.00012},{"j":1469,"v":0.00044},{"j":1474,"v":0.0001},
{"j":1484,"v":0.00005},{"j":1490,"v":0.0008},{"j":1493,"v":0.00012},{"j":1497,"v":0.00044},{"j":1502,"v":0.0001},
{"j":1512,"v":0.00003},{"j":1518,"v":0.00058},{"j":1521,"v":0.00009},{"j":1525,"v":0.00032},{"j":1530,"v":0.00007},
{"j":1540,"v":0.00003},{"j":1546,"v":0.00058},{"j":1549,"v":0.00009},{"j":1553,"v":0.00032},{"j":1558,"v":0.00007},
{"j":1568,"v":0.00002},{"j":1574,"v":0.0004},{"j":1577,"v":0.00006},{"j":1581,"v":0.00022},{"j":1586,"v":0.00005},
{"j":1596,"v":0.00002},{"j":1602,"v":0.0003},{"j":1605,"v":0.00005},{"j":1609,"v":0.00017},{"j":1614,"v":0.00004},
{"j":1624,"v":0.00002},{"j":1630,"v":0.00025},{"j":1633,"v":0.00004},{"j":1637,"v":0.00014},{"j":1642,"v":0.00003},
{"j":1652,"v":0.00002},{"j":1658,"v":0.00025},{"j":1661,"v":0.00004},{"j":1665,"v":0.00014},{"j":1670,"v":0.00003}]
},
"vconcat":[
{"width":547,"height":82,"data":{"name":"p1"},
"layer":[
{"mark":{"type":"line","clip":true,"stroke":"#000","strokeWidth":1.4},
"encoding":{
"x":{"field":"j","type":"quantitative","scale":{"domain":[0,1664],"nice":false,"zero":false},"axis":{"orient":"bottom","labels":false,"values":[0,224,448,672,896,1120,1344,1568]}},
"y":{"field":"v","type":"quantitative","scale":{"domain":[0,0.002],"nice":false},"axis":{"orient":"left","tickSize":-11,"labelPadding":16,"format":"~g","values":[0,0.0005,0.001,0.0015,0.002]}}}},
{"mark":{"type":"line","opacity":0},
"encoding":{
"x":{"field":"j","type":"quantitative","scale":{"domain":[0,1664],"nice":false,"zero":false},"axis":{"orient":"top","labels":false,"values":[0,224,448,672,896,1120,1344,1568]}},
"y":{"field":"v","type":"quantitative","scale":{"domain":[0,0.002],"nice":false},"axis":{"orient":"right","labels":false,"tickSize":-11,"values":[0,0.0005,0.001,0.0015,0.002]}}}},
{"mark":{"type":"line","opacity":0},
"encoding":{
"x":{"field":"j","type":"quantitative","scale":{"domain":[0,1664],"nice":false,"zero":false},"axis":{"orient":"bottom","labels":false,"domain":false,"tickSize":-5,"values":[56,112,168,280,336,392,504,560,616,728,784,840,952,1008,1064,1176,1232,1288,1400,1456,1512,1624]}},
"y":{"field":"v","type":"quantitative","scale":{"domain":[0,0.002],"nice":false},"axis":{"orient":"left","labels":false,"domain":false,"tickSize":-6,"values":[0.00025,0.00075,0.00125,0.00175]}}}},
{"mark":{"type":"line","opacity":0},
"encoding":{
"x":{"field":"j","type":"quantitative","scale":{"domain":[0,1664],"nice":false,"zero":false},"axis":{"orient":"top","labels":false,"domain":false,"tickSize":-5,"values":[56,112,168,280,336,392,504,560,616,728,784,840,952,1008,1064,1176,1232,1288,1400,1456,1512,1624]}},
"y":{"field":"v","type":"quantitative","scale":{"domain":[0,0.002],"nice":false},"axis":{"orient":"right","labels":false,"domain":false,"tickSize":-6,"values":[0.00025,0.00075,0.00125,0.00175]}}}},
{"data":{"values":[{"label":"(1)"}]},
"mark":{"type":"text","font":"Liberation Sans","fontSize":14,"color":"#000"},
"encoding":{"x":{"datum":1589,"type":"quantitative","scale":{"domain":[0,1664],"nice":false,"zero":false},"axis":null},"y":{"datum":0.00156,"type":"quantitative","scale":{"domain":[0,0.002],"nice":false},"axis":null},"text":{"field":"label"}}}
],
"resolve":{"axis":{"x":"independent","y":"independent"}}},
{"width":547,"height":82,"data":{"name":"p2"},
"layer":[
{"mark":{"type":"line","clip":true,"stroke":"#9c4040","strokeOpacity":0.6,"strokeWidth":1.2},
"encoding":{
"x":{"field":"j","type":"quantitative","scale":{"domain":[0,1664],"nice":false,"zero":false},"axis":{"orient":"bottom","labels":false,"values":[0,224,448,672,896,1120,1344,1568]}},
"y":{"field":"v","type":"quantitative","scale":{"domain":[0,0.003],"nice":false},"axis":{"orient":"left","tickSize":-11,"labelPadding":16,"format":"~g","values":[0,0.001,0.002,0.003],"title":"|Ψ|²","titleFont":"Liberation Serif","titleFontSize":30,"titleFontWeight":"normal","titleColor":"#000","titlePadding":6}}}},
{"mark":{"type":"line","opacity":0},
"encoding":{
"x":{"field":"j","type":"quantitative","scale":{"domain":[0,1664],"nice":false,"zero":false},"axis":{"orient":"top","labels":false,"values":[0,224,448,672,896,1120,1344,1568]}},
"y":{"field":"v","type":"quantitative","scale":{"domain":[0,0.003],"nice":false},"axis":{"orient":"right","labels":false,"tickSize":-11,"values":[0,0.001,0.002,0.003]}}}},
{"mark":{"type":"line","opacity":0},
"encoding":{
"x":{"field":"j","type":"quantitative","scale":{"domain":[0,1664],"nice":false,"zero":false},"axis":{"orient":"bottom","labels":false,"domain":false,"tickSize":-5,"values":[56,112,168,280,336,392,504,560,616,728,784,840,952,1008,1064,1176,1232,1288,1400,1456,1512,1624]}},
"y":{"field":"v","type":"quantitative","scale":{"domain":[0,0.003],"nice":false},"axis":{"orient":"left","labels":false,"domain":false,"tickSize":-6,"values":[0.0005,0.0015,0.0025]}}}},
{"mark":{"type":"line","opacity":0},
"encoding":{
"x":{"field":"j","type":"quantitative","scale":{"domain":[0,1664],"nice":false,"zero":false},"axis":{"orient":"top","labels":false,"domain":false,"tickSize":-5,"values":[56,112,168,280,336,392,504,560,616,728,784,840,952,1008,1064,1176,1232,1288,1400,1456,1512,1624]}},
"y":{"field":"v","type":"quantitative","scale":{"domain":[0,0.003],"nice":false},"axis":{"orient":"right","labels":false,"domain":false,"tickSize":-6,"values":[0.0005,0.0015,0.0025]}}}},
{"data":{"values":[{"label":"(2)"}]},
"mark":{"type":"text","font":"Liberation Sans","fontSize":14,"color":"#000"},
"encoding":{"x":{"datum":1202,"type":"quantitative","scale":{"domain":[0,1664],"nice":false,"zero":false},"axis":null},"y":{"datum":0.00241,"type":"quantitative","scale":{"domain":[0,0.003],"nice":false},"axis":null},"text":{"field":"label"}}}
],
"resolve":{"axis":{"x":"independent","y":"independent"}}},
{"width":547,"height":82,"data":{"name":"p3"},
"layer":[
{"mark":{"type":"line","clip":true,"stroke":"#9c4040","strokeOpacity":0.6,"strokeWidth":1.2},
"encoding":{
"x":{"field":"j","type":"quantitative","scale":{"domain":[0,1664],"nice":false,"zero":false},"axis":{"orient":"bottom","labels":false,"values":[0,224,448,672,896,1120,1344,1568]}},
"y":{"field":"v","type":"quantitative","scale":{"domain":[0,0.006],"nice":false},"axis":{"orient":"left","tickSize":-11,"labelPadding":16,"format":"~g","values":[0,0.002,0.004,0.006]}}}},
{"mark":{"type":"line","opacity":0},
"encoding":{
"x":{"field":"j","type":"quantitative","scale":{"domain":[0,1664],"nice":false,"zero":false},"axis":{"orient":"top","labels":false,"values":[0,224,448,672,896,1120,1344,1568]}},
"y":{"field":"v","type":"quantitative","scale":{"domain":[0,0.006],"nice":false},"axis":{"orient":"right","labels":false,"tickSize":-11,"values":[0,0.002,0.004,0.006]}}}},
{"mark":{"type":"line","opacity":0},
"encoding":{
"x":{"field":"j","type":"quantitative","scale":{"domain":[0,1664],"nice":false,"zero":false},"axis":{"orient":"bottom","labels":false,"domain":false,"tickSize":-5,"values":[56,112,168,280,336,392,504,560,616,728,784,840,952,1008,1064,1176,1232,1288,1400,1456,1512,1624]}},
"y":{"field":"v","type":"quantitative","scale":{"domain":[0,0.006],"nice":false},"axis":{"orient":"left","labels":false,"domain":false,"tickSize":-6,"values":[0.001,0.003,0.005]}}}},
{"mark":{"type":"line","opacity":0},
"encoding":{
"x":{"field":"j","type":"quantitative","scale":{"domain":[0,1664],"nice":false,"zero":false},"axis":{"orient":"top","labels":false,"domain":false,"tickSize":-5,"values":[56,112,168,280,336,392,504,560,616,728,784,840,952,1008,1064,1176,1232,1288,1400,1456,1512,1624]}},
"y":{"field":"v","type":"quantitative","scale":{"domain":[0,0.006],"nice":false},"axis":{"orient":"right","labels":false,"domain":false,"tickSize":-6,"values":[0.001,0.003,0.005]}}}},
{"data":{"values":[{"label":"(3)"}]},
"mark":{"type":"text","font":"Liberation Sans","fontSize":14,"color":"#000"},
"encoding":{"x":{"datum":1592,"type":"quantitative","scale":{"domain":[0,1664],"nice":false,"zero":false},"axis":null},"y":{"datum":0.00468,"type":"quantitative","scale":{"domain":[0,0.006],"nice":false},"axis":null},"text":{"field":"label"}}}
],
"resolve":{"axis":{"x":"independent","y":"independent"}}},
{"width":547,"height":82,"data":{"name":"p4"},
"layer":[
{"mark":{"type":"line","clip":true,"stroke":"#9c4040","strokeOpacity":0.6,"strokeWidth":1.2},
"encoding":{
"x":{"field":"j","type":"quantitative","scale":{"domain":[0,1664],"nice":false,"zero":false},"axis":{"orient":"bottom","format":"d","values":[0,224,448,672,896,1120,1344,1568],"title":"j","titleFont":"Liberation Serif","titleFontSize":27,"titleFontWeight":"normal","titleColor":"#000","titleX":540,"titleY":27,"titleAlign":"center","titleBaseline":"alphabetic"}},
"y":{"field":"v","type":"quantitative","scale":{"domain":[0,0.003],"nice":false},"axis":{"orient":"left","tickSize":-11,"labelPadding":16,"format":"~g","values":[0,0.001,0.002,0.003]}}}},
{"mark":{"type":"line","opacity":0},
"encoding":{
"x":{"field":"j","type":"quantitative","scale":{"domain":[0,1664],"nice":false,"zero":false},"axis":{"orient":"top","labels":false,"values":[0,224,448,672,896,1120,1344,1568]}},
"y":{"field":"v","type":"quantitative","scale":{"domain":[0,0.003],"nice":false},"axis":{"orient":"right","labels":false,"tickSize":-11,"values":[0,0.001,0.002,0.003]}}}},
{"mark":{"type":"line","opacity":0},
"encoding":{
"x":{"field":"j","type":"quantitative","scale":{"domain":[0,1664],"nice":false,"zero":false},"axis":{"orient":"bottom","labels":false,"domain":false,"tickSize":-5,"values":[56,112,168,280,336,392,504,560,616,728,784,840,952,1008,1064,1176,1232,1288,1400,1456,1512,1624]}},
"y":{"field":"v","type":"quantitative","scale":{"domain":[0,0.003],"nice":false},"axis":{"orient":"left","labels":false,"domain":false,"tickSize":-6,"values":[0.0005,0.0015,0.0025]}}}},
{"mark":{"type":"line","opacity":0},
"encoding":{
"x":{"field":"j","type":"quantitative","scale":{"domain":[0,1664],"nice":false,"zero":false},"axis":{"orient":"top","labels":false,"domain":false,"tickSize":-5,"values":[56,112,168,280,336,392,504,560,616,728,784,840,952,1008,1064,1176,1232,1288,1400,1456,1512,1624]}},
"y":{"field":"v","type":"quantitative","scale":{"domain":[0,0.003],"nice":false},"axis":{"orient":"right","labels":false,"domain":false,"tickSize":-6,"values":[0.0005,0.0015,0.0025]}}}}
],
"resolve":{"axis":{"x":"independent","y":"independent"}}}
]
}
